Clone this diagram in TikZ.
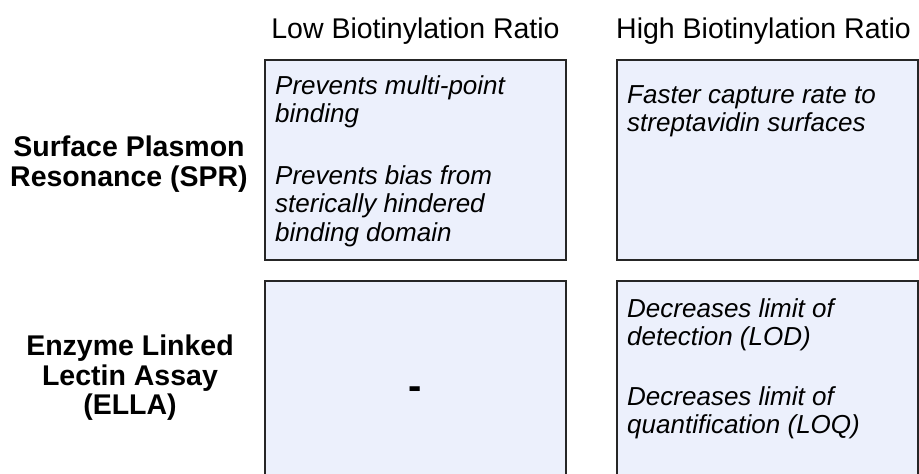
\documentclass[tikz,border=0pt]{standalone}
\usepackage{fontspec}
\setmainfont{Liberation Sans}
\usepackage{xcolor}
\usetikzlibrary{positioning}
\definecolor{cellfill}{HTML}{ECF0FC}
\definecolor{cellline}{HTML}{262626}

\begin{document}
\begin{tikzpicture}[x=1pt,y=-1pt,
      cell/.style={draw=cellline,fill=cellfill,line width=2pt,minimum width=301pt,minimum height=200pt,inner sep=0pt,anchor=north west},
      colhead/.style={font=\fontsize{28.5}{30}\selectfont,anchor=base,inner sep=0pt},
      rowhead/.style={font=\fontsize{28.5}{29}\selectfont\bfseries,align=center,anchor=north,inner sep=0pt},
      celltext/.style={font=\fontsize{26}{28.5}\selectfont\itshape,align=left,anchor=north west,inner sep=0pt}]
    \useasboundingbox (0,0) rectangle (919,474);
    \clip (0,0) rectangle (919,474);
    \node[cell] (spr-low) at (264,59) {};
    \node[cell] (spr-high) at (616,59) {};
    \node[cell,minimum height=230pt] (ella-low) at (264,280) {};
    \node[cell,minimum height=230pt] (ella-high) at (616,280) {};
    \node[colhead] (low) at ([yshift=21pt]spr-low.north) {Low Biotinylation Ratio};
    \node[colhead] (high) at ([xshift=-4pt,yshift=21pt]spr-high.north) {High Biotinylation Ratio};
    \node[rowhead] (spr) at (129,135.7) {\strut Surface Plasmon\\Resonance (SPR)};
    \node[rowhead] (ella) at (130,334.7) {\strut Enzyme Linked\\Lectin Assay\\(ELLA)};
    \node[celltext] (spr-low-txt) at (275,74) {\strut Prevents multi-point\\binding\\[33pt]Prevents bias from\\sterically hindered\\binding domain};
    \node[celltext] (spr-high-txt) at (627,83) {\strut Faster capture rate to\\streptavidin surfaces};
    \node[font=\fontsize{40}{40}\selectfont\bfseries,inner sep=0pt] (none) at (415,393) {-};
    \node[celltext] (ella-high-txt) at (627,297) {\strut Decreases limit of\\detection (LOD)\\[31pt]Decreases limit of\\quantification (LOQ)};
  \end{tikzpicture}
\end{document}
